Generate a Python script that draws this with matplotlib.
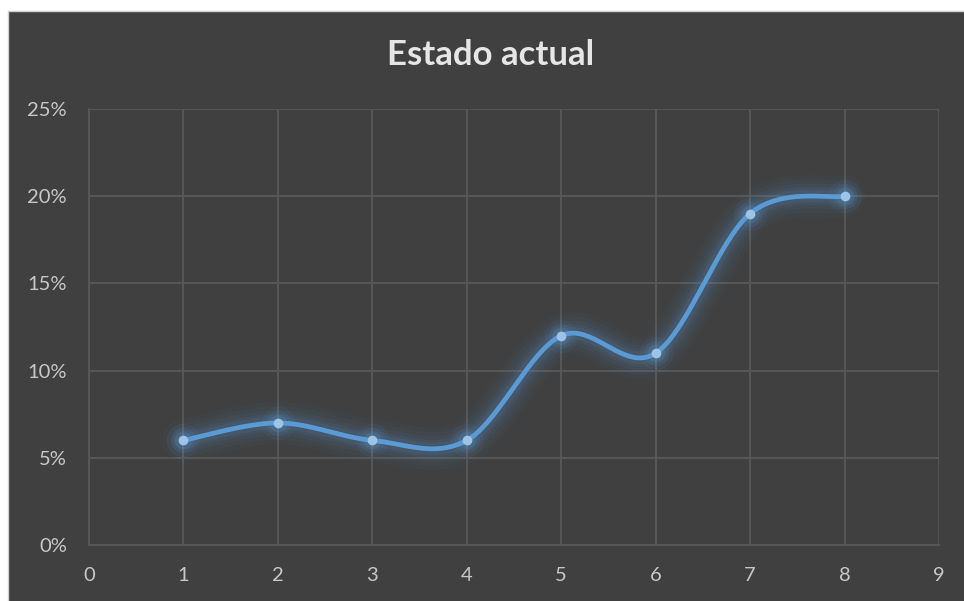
import numpy as np
import matplotlib
matplotlib.use("Agg")
import matplotlib.pyplot as plt
from matplotlib.patches import Rectangle

plt.rcParams['font.family'] = ['Lato', 'DejaVu Sans']

# Series values
x_vals = [1, 2, 3, 4, 5, 6, 7, 8]
y_vals = [0.06, 0.07, 0.06, 0.06, 0.12, 0.11, 0.19, 0.20]
x_ticks = [0, 1, 2, 3, 4, 5, 6, 7, 8, 9]
y_ticks = [0.0, 0.05, 0.10, 0.15, 0.20, 0.25]
y_tick_labels = ["0%", "5%", "10%", "15%", "20%", "25%"]
title = "Estado actual"

BG = "#404040"
GRID = "#595959"
LINE = "#5B9BD5"
MARK = "#9DC3E6"
TEXT = "#C8C8C8"


def smooth_curve(xs, ys, n=40):
    """Cubic Bezier smoothing through each point (Catmull-Rom style)."""
    xs = np.asarray(xs, float)
    ys = np.asarray(ys, float)
    px, py = [], []
    m = len(xs)
    for i in range(m - 1):
        x0, y0 = xs[max(i - 1, 0)], ys[max(i - 1, 0)]
        x1, y1 = xs[i], ys[i]
        x2, y2 = xs[i + 1], ys[i + 1]
        x3, y3 = xs[min(i + 2, m - 1)], ys[min(i + 2, m - 1)]
        c1x, c1y = x1 + (x2 - x0) / 6, y1 + (y2 - y0) / 6
        c2x, c2y = x2 - (x3 - x1) / 6, y2 - (y3 - y1) / 6
        t = np.linspace(0, 1, n, endpoint=(i == m - 2))
        b0 = (1 - t) ** 3
        b1 = 3 * (1 - t) ** 2 * t
        b2 = 3 * (1 - t) * t ** 2
        b3 = t ** 3
        px.append(b0 * x1 + b1 * c1x + b2 * c2x + b3 * x2)
        py.append(b0 * y1 + b1 * c1y + b2 * c2y + b3 * y2)
    return np.concatenate(px), np.concatenate(py)


fig = plt.figure(figsize=(9.64, 6.01), dpi=100)
fig.patch.set_facecolor("white")

# dark chart panel behind everything
panel = fig.add_axes([0, 0, 1, 1], zorder=-5)
panel.set_axis_off()
panel.set_xlim(0, 1)
panel.set_ylim(0, 1)
panel.add_patch(Rectangle((8 / 964, -0.01), 1, 1 - 11 / 601 + 0.01,
                          facecolor=BG, edgecolor="#D0D0D0", linewidth=1.0))

ax = fig.add_axes([89 / 964, 1 - 545 / 601, (939 - 89) / 964, (545 - 109) / 601])
ax.set_facecolor(BG)
ax.set_xlim(0, 9)
ax.set_ylim(0, 0.25)
ax.set_xticks(x_ticks)
ax.set_yticks(y_ticks)
ax.set_yticklabels(y_tick_labels)
ax.grid(True, color=GRID, linewidth=1.3)
ax.set_axisbelow(True)
for s in ["top", "right"]:
    ax.spines[s].set_visible(False)
for s in ["left", "bottom"]:
    ax.spines[s].set_color(GRID)
    ax.spines[s].set_linewidth(1.3)
ax.tick_params(length=0, colors=TEXT, labelsize=14.5)
ax.tick_params(axis="x", pad=16)
ax.tick_params(axis="y", pad=16)

sx, sy = smooth_curve(x_vals, y_vals)

# soft glow around the line
for lw, a in [(30, 0.035), (24, 0.045), (18, 0.06), (13, 0.08), (9, 0.10)]:
    ax.plot(sx, sy, color=LINE, linewidth=lw, alpha=a, solid_capstyle="round", zorder=2)
for ms, a in [(24, 0.07), (18, 0.10), (13, 0.16)]:
    ax.plot(x_vals, y_vals, "o", color=LINE, markersize=ms, alpha=a, markeredgewidth=0, zorder=2)

ax.plot(sx, sy, color=LINE, linewidth=3.4, solid_capstyle="round", zorder=3)
ax.plot(x_vals, y_vals, "o", color=MARK, markersize=7, markeredgewidth=0, zorder=4)

fig.text(491 / 964, 1 - 55 / 601, title, ha="center", va="center", color="#E6E6E6",
         fontsize=25, fontweight="bold")

fig.savefig("out.png", dpi=100, facecolor=fig.get_facecolor())
